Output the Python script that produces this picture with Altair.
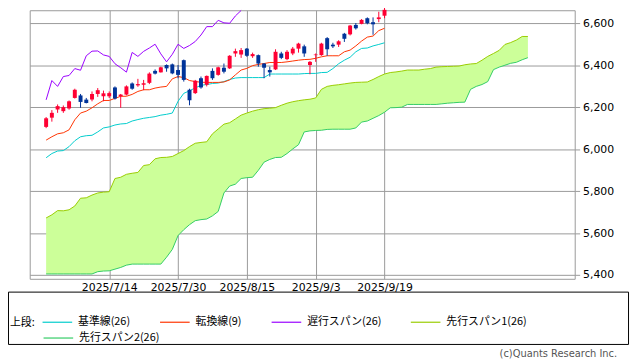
import altair as alt
import pandas as pd

# ---------------- data ----------------
date_index = [11, 23, 35, 47, 59]
date_labels = ["2025/7/14", "2025/7/30", "2025/8/15", "2025/9/3", "2025/9/19"]
y_ticks = [5400, 5600, 5800, 6000, 6200, 6400, 6600]

opens = [6106, 6150, 6189, 6181, 6194, 6244, 6256, 6236, 6236, 6263,
         6252, 6252, 6294, 6252, 6260, 6313, 6304, 6307, 6316, 6373,
         6366, 6401, 6404, 6377, 6424, 6283, 6267, 6338, 6307, 6373,
         6354, 6388, 6385, 6456, 6451, 6479, 6443, 6448, 6408, 6377,
         6380, 6456, 6429, 6456, 6479, 6490, 6401, 6448, 6448, 6529,
         6498, 6498, 6550, 6547, 6592, 6597, 6624, 6605, 6620, 6636]
highs = [6153, 6186, 6213, 6208, 6232, 6288, 6263, 6244, 6275, 6291,
         6279, 6275, 6299, 6263, 6304, 6318, 6335, 6330, 6366, 6380,
         6393, 6404, 6408, 6401, 6427, 6288, 6330, 6346, 6351, 6385,
         6393, 6408, 6448, 6479, 6482, 6482, 6460, 6451, 6410, 6393,
         6476, 6464, 6472, 6487, 6507, 6498, 6420, 6456, 6507, 6534,
         6507, 6519, 6554, 6592, 6601, 6620, 6628, 6628, 6655, 6675]
lows = [6100, 6131, 6173, 6173, 6188, 6241, 6197, 6218, 6228, 6249,
        6228, 6244, 6236, 6197, 6256, 6283, 6297, 6281, 6310, 6356,
        6365, 6369, 6357, 6338, 6322, 6209, 6263, 6288, 6299, 6330,
        6350, 6361, 6382, 6440, 6435, 6440, 6435, 6393, 6338, 6346,
        6377, 6429, 6424, 6448, 6460, 6440, 6357, 6416, 6445, 6445,
        6482, 6487, 6511, 6542, 6570, 6595, 6595, 6545, 6605, 6624]
closes = [6147, 6173, 6205, 6200, 6228, 6283, 6225, 6220, 6263, 6281,
          6266, 6267, 6241, 6260, 6299, 6288, 6310, 6314, 6360, 6360,
          6390, 6385, 6361, 6354, 6330, 6233, 6326, 6294, 6349, 6338,
          6390, 6369, 6445, 6467, 6472, 6445, 6453, 6408, 6388, 6366,
          6464, 6435, 6464, 6479, 6503, 6456, 6416, 6451, 6503, 6476,
          6490, 6514, 6526, 6589, 6576, 6616, 6600, 6595, 6628, 6664]

kijun = [5959, 5979, 5991, 5993, 6012, 6040, 6059, 6064, 6066, 6082,
         6101, 6106, 6115, 6120, 6122, 6134, 6141, 6147, 6151, 6155,
         6162, 6166, 6172, 6228, 6266, 6278, 6292, 6304, 6308, 6313,
         6315, 6322, 6332, 6339, 6341, 6341, 6341, 6341, 6341, 6358,
         6358, 6358, 6358, 6358, 6358, 6360, 6361, 6361, 6365, 6366,
         6384, 6407, 6424, 6438, 6464, 6480, 6482, 6492, 6499, 6507]
tenkan = [6043, 6059, 6073, 6078, 6092, 6140, 6172, 6181, 6197, 6216,
          6232, 6232, 6242, 6252, 6252, 6261, 6275, 6283, 6283, 6291,
          6296, 6299, 6335, 6346, 6341, 6327, 6322, 6319, 6318, 6318,
          6318, 6320, 6330, 6354, 6377, 6385, 6398, 6404, 6408, 6413,
          6413, 6413, 6416, 6420, 6424, 6427, 6428, 6433, 6440, 6445,
          6445, 6445, 6464, 6472, 6492, 6515, 6534, 6539, 6565, 6576]
chikou = [6235, 6327, 6299, 6346, 6351, 6384, 6376, 6445, 6467, 6468,
          6449, 6442, 6407, 6388, 6367, 6461, 6442, 6466, 6482, 6500,
          6454, 6416, 6452, 6500, 6480, 6494, 6513, 6544, 6584, 6584,
          6614, 6602, 6600, 6635, 6661]
span1 = [5672, 5687, 5707, 5706, 5711, 5729, 5766, 5768, 5781, 5791,
         5795, 5797, 5860, 5866, 5880, 5885, 5889, 5922, 5926, 5954,
         5960, 5961, 5965, 5979, 5993, 6012, 6028, 6032, 6035, 6073,
         6096, 6119, 6126, 6144, 6162, 6172, 6181, 6188, 6193, 6195,
         6198, 6209, 6219, 6226, 6231, 6235, 6238, 6244, 6285, 6299,
         6304, 6307, 6311, 6315, 6318, 6319, 6320, 6332, 6346, 6358,
         6365, 6368, 6372, 6377, 6377, 6377, 6381, 6384, 6391, 6393,
         6394, 6395, 6396, 6402, 6406, 6408, 6424, 6442, 6456, 6471,
         6499, 6508, 6520, 6537, 6537]
span2 = [5405, 5405, 5405, 5405, 5405, 5405, 5405, 5405, 5405, 5416,
         5419, 5420, 5428, 5436, 5447, 5452, 5452, 5452, 5452, 5452,
         5452, 5485, 5522, 5588, 5616, 5640, 5659, 5664, 5667, 5682,
         5703, 5791, 5824, 5833, 5860, 5864, 5866, 5899, 5938, 5951,
         5960, 5961, 5979, 6001, 6021, 6082, 6087, 6089, 6090, 6094,
         6095, 6095, 6095, 6095, 6101, 6129, 6134, 6147, 6160, 6176,
         6197, 6198, 6200, 6213, 6213, 6213, 6213, 6213, 6213, 6216,
         6219, 6221, 6223, 6224, 6285, 6299, 6308, 6322, 6379, 6391,
         6400, 6409, 6414, 6426, 6436]

row1_names = ["基準線(26)", "転換線(9)", "遅行スパン(26)", "先行スパン1(26)"]
row1_colors = ["#00cccc", "#ff3300", "#9900ff", "#99cc00"]
row2_names = ["先行スパン2(26)"]
row2_colors = ["#33cc66"]
legend_title = "上段:"
copyright_text = "(c)Quants Research Inc."

# ---------------- tables ----------------
candles = pd.DataFrame({
    "i": list(range(len(opens))),
    "open": opens, "high": highs, "low": lows, "close": closes,
})

line_rows = []
for name, vals in zip(row1_names, [kijun, tenkan, chikou, span1]):
    for k, v in enumerate(vals):
        line_rows.append({"i": k, "v": v, "series": name})
lines_df = pd.DataFrame(line_rows)
span2_df = pd.DataFrame({"i": list(range(len(span2))), "v": span2, "series": row2_names[0]})

cloud = pd.DataFrame({"i": list(range(len(span1))), "s1": span1, "s2": span2})
one = pd.DataFrame({"a": [0]})

label_expr = "".join(
    f"datum.value == {k} ? '{t}' : " for k, t in zip(date_index, date_labels)
) + "''"

x_scale = alt.Scale(domain=[-2, 91.3], zero=False, nice=False)
y_scale = alt.Scale(domain=[5382, 6662], zero=False, nice=False)

x_axis = alt.Axis(values=date_index, labelExpr=label_expr, grid=True, gridColor="#999999",
                  gridWidth=1, ticks=False, domain=False, title=None,
                  labelFont="DejaVu Sans", labelFontSize=11, labelColor="#000000",
                  labelPadding=3, labelFlush=False, labelOverlap=False)
y_axis = alt.Axis(orient="right", values=y_ticks, format=",.0f", grid=True, gridColor="#999999",
                  gridWidth=1, ticks=True, tickColor="#999999", tickSize=5, domain=False,
                  title=None, labelFont="DejaVu Sans", labelFontSize=11,
                  labelColor="#000000", labelPadding=3)

legend_common = dict(
    orient="none", direction="horizontal",
    symbolType="stroke", symbolSize=900, symbolStrokeWidth=1.2,
    labelFont="Noto Sans CJK JP", labelFontSize=11, labelColor="#000000",
    labelOffset=5, columnPadding=27, padding=0,
)

area = alt.Chart(cloud).mark_area(color="#ccff99", opacity=1).encode(
    x=alt.X("i:Q", scale=x_scale, axis=x_axis),
    y=alt.Y("s1:Q", scale=y_scale, axis=y_axis),
    y2="s2:Q",
)

span2_line = alt.Chart(span2_df).mark_line(strokeWidth=1).encode(
    x=alt.X("i:Q", scale=x_scale),
    y=alt.Y("v:Q", scale=y_scale),
    stroke=alt.Stroke(
        "series:N",
        scale=alt.Scale(domain=row2_names, range=row2_colors),
        legend=alt.Legend(title=None, legendX=13, legendY=316, **legend_common),
    ),
)

lines = alt.Chart(lines_df).mark_line(strokeWidth=1).encode(
    x=alt.X("i:Q", scale=x_scale),
    y=alt.Y("v:Q", scale=y_scale),
    color=alt.Color(
        "series:N",
        scale=alt.Scale(domain=row1_names, range=row1_colors),
        sort=row1_names,
        legend=alt.Legend(
            title=legend_title, legendX=-20, legendY=300,
            titleOrient="left", titleAnchor="middle", titleBaseline="top",
            titleFont="Noto Sans CJK JP", titleFontSize=11, titleFontWeight="normal",
            titleColor="#000000", titlePadding=6,
            **legend_common,
        ),
    ),
    detail="series:N",
)

cond_color = alt.condition("datum.close >= datum.open", alt.value("#ff0033"), alt.value("#003399"))

wicks = alt.Chart(candles).mark_rule(strokeWidth=1).encode(
    x=alt.X("i:Q", scale=x_scale),
    y=alt.Y("low:Q", scale=y_scale),
    y2="high:Q",
    color=cond_color,
)

bodies = alt.Chart(candles).mark_bar(size=4).encode(
    x=alt.X("i:Q", scale=x_scale),
    y=alt.Y("open:Q", scale=y_scale),
    y2="close:Q",
    color=cond_color,
)

frame = alt.Chart(one).mark_rect(fillOpacity=0, stroke="#000000", strokeWidth=1).encode(
    x=alt.value(-21.5), x2=alt.value(606.5), y=alt.value(285.5), y2=alt.value(338.5),
)

credit = alt.Chart(one).mark_text(
    align="right", baseline="middle", font="DejaVu Sans", fontSize=10, color="#555555"
).encode(x=alt.value(595), y=alt.value(348), text=alt.value(copyright_text))

chart = alt.layer(area, span2_line, lines, wicks, bodies, frame, credit).properties(
    width=552, height=272,
    autosize=alt.AutoSizeParams(type="none"),
    padding={"left": 22, "top": 0, "right": 56, "bottom": 82},
    background="#ffffff",
).configure_view(stroke="#999999", strokeWidth=1)

chart.save("out.html", embed_options={"renderer": "svg", "actions": False})
